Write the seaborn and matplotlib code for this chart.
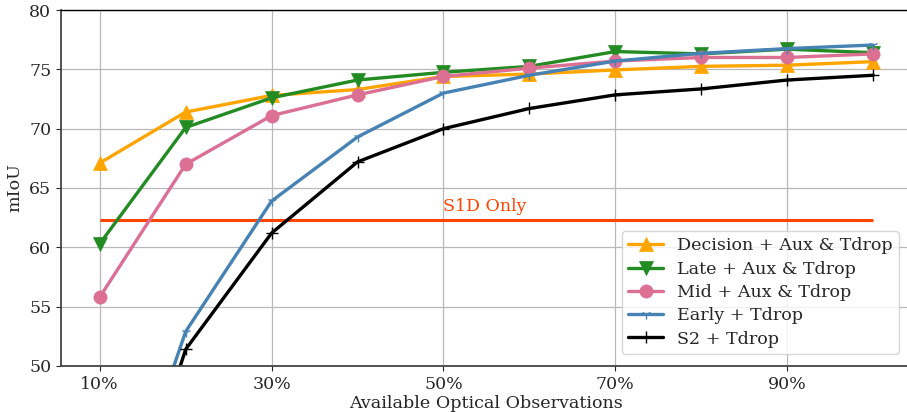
import matplotlib
matplotlib.use("Agg")
import matplotlib.pyplot as plt
import seaborn as sns
import pandas as pd

# Fraction of optical observations available (%)
availability = [10, 20, 30, 40, 50, 60, 70, 80, 90, 100]

decision_aux_tdrop = [67.1, 71.4, 72.8, 73.3, 74.4, 74.6, 74.95, 75.25, 75.35, 75.65]
late_aux_tdrop = [60.3, 70.1, 72.6, 74.1, 74.75, 75.25, 76.5, 76.3, 76.7, 76.4]
mid_aux_tdrop = [55.8, 67.0, 71.1, 72.85, 74.4, 75.1, 75.7, 76.0, 76.0, 76.3]
early_tdrop = [31.7, 52.9, 63.9, 69.3, 73.0, 74.5, 75.7, 76.35, 76.75, 77.05]
s2_tdrop = [29.0, 51.4, 61.2, 67.2, 70.0, 71.7, 72.85, 73.35, 74.1, 74.5]

s1d_only = 62.3

series_names = [
    "Decision + Aux & Tdrop",
    "Late + Aux & Tdrop",
    "Mid + Aux & Tdrop",
    "Early + Tdrop",
    "S2 + Tdrop",
]
series_values = [decision_aux_tdrop, late_aux_tdrop, mid_aux_tdrop, early_tdrop, s2_tdrop]
colors = ["orange", "forestgreen", "palevioletred", "steelblue", "black"]
markers = ["^", "v", "o", "1", "+"]
marker_sizes = [10, 10, 9.5, 7, 8]
marker_edges = [0.5, 0.5, 0.5, 1.0, 1.0]

x_ticks = [10, 30, 50, 70, 90]
x_tick_labels = ["10%", "30%", "50%", "70%", "90%"]
y_ticks = [50, 55, 60, 65, 70, 75, 80]

rows = []
for name, vals in zip(series_names, series_values):
    for a, v in zip(availability, vals):
        rows.append({"availability": a, "mIoU": v, "model": name})
df = pd.DataFrame(rows)

sns.set_style("ticks")
plt.rcParams["font.family"] = ["DejaVu Serif"]

fig = plt.figure(figsize=(9.07, 4.12), dpi=100)
ax = fig.add_axes([0.0673, 0.1117, 0.938, 0.864])

for name, color, marker, ms, mew in zip(series_names, colors, markers, marker_sizes, marker_edges):
    sub = df[df["model"] == name]
    sns.lineplot(
        data=sub, x="availability", y="mIoU", ax=ax, color=color,
        marker=marker, markersize=ms, markeredgewidth=mew,
        markeredgecolor=color, linewidth=2.4, label=name,
    )

ax.hlines(s1d_only, availability[0], availability[-1], color="orangered", linewidth=2.2, zorder=1.5)
ax.text(50, s1d_only + 0.45, "S1D Only", color="orangered", fontsize=12.5, ha="left", va="bottom")

ax.set_xlim(5.5, 104.5)
ax.set_ylim(50, 80)
ax.set_xticks(x_ticks)
ax.set_xticklabels(x_tick_labels)
ax.set_yticks(y_ticks)
ax.tick_params(labelsize=12.5)
ax.grid(True, color="#b8b8b8", linewidth=0.9)
ax.set_axisbelow(True)
ax.set_xlabel("Available Optical Observations", fontsize=12.6, labelpad=2)
ax.set_ylabel("mIoU", fontsize=12.6)

for side in ("left", "bottom"):
    ax.spines[side].set_color("#444444")
    ax.spines[side].set_linewidth(1.3)
for side in ("top", "right"):
    ax.spines[side].set_color("black")
    ax.spines[side].set_linewidth(1.0)

ax.legend(loc="lower right", fontsize=12.6, frameon=True, borderpad=0.35,
          labelspacing=0.36, handlelength=2.0, bbox_to_anchor=(0.995, 0.01))

fig.savefig("out.png", dpi=100)
